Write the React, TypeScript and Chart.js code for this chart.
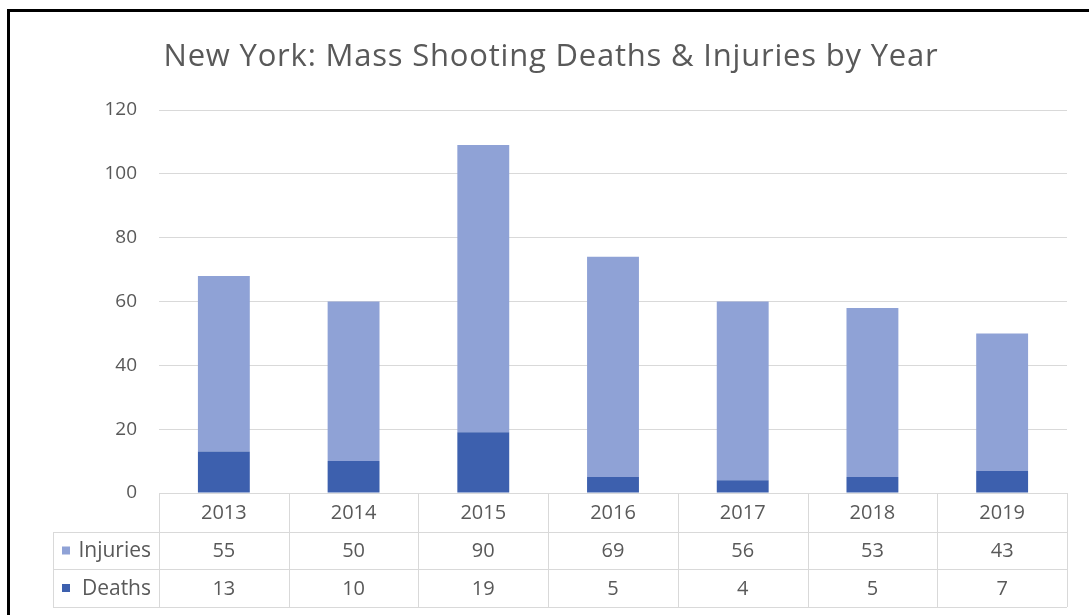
import React, { useEffect, useRef } from 'react';
import { Chart, registerables } from 'chart.js';

Chart.register(...registerables);

const titleText = 'New York: Mass Shooting Deaths & Injuries by Year';
const years = ['2013', '2014', '2015', '2016', '2017', '2018', '2019'];
const injuries = [55, 50, 90, 69, 56, 53, 43];
const deaths = [13, 10, 19, 5, 4, 5, 7];
const yMin = 0;
const yMax = 120;
const yStep = 20;

const FONT = '"Open Sans", Lato, "Liberation Sans", sans-serif';
const TEXT = '#595959';
const GRID = '#d9d9d9';
const C_INJ = '#8FA2D6';
const C_DEA = '#3D60AE';

const decorPlugin = {
  id: 'decor',
  beforeDraw(chart: any) {
    const ctx = chart.ctx;
    ctx.save();
    ctx.fillStyle = '#ffffff';
    ctx.fillRect(0, 0, chart.width, chart.height);
    ctx.fillStyle = '#000000';
    ctx.fillRect(7, 9, chart.width - 7, 3);
    ctx.fillRect(7, 9, 3, chart.height - 9);
    ctx.restore();
  },
  afterDraw(chart: any) {
    const ctx = chart.ctx;
    const area = chart.chartArea;
    const xs = chart.scales.x;
    ctx.save();
    // title
    ctx.fillStyle = TEXT;
    ctx.font = `31px ${FONT}`;
    try {
      (ctx as any).letterSpacing = '0.8px';
    } catch (e) {}
    ctx.textAlign = 'center';
    ctx.textBaseline = 'middle';
    ctx.fillText(titleText, 551, 57);
    try {
      (ctx as any).letterSpacing = '0px';
    } catch (e) {}

    // data table
    const n = years.length;
    const cw = (area.right - area.left) / n;
    const top = area.bottom;
    const r1 = top + 39;
    const r2 = r1 + 37;
    const r3 = r2 + 38;
    const legL = 53;
    ctx.strokeStyle = GRID;
    ctx.lineWidth = 1;
    ctx.beginPath();
    ctx.moveTo(area.left, top + 0.5);
    ctx.lineTo(area.right, top + 0.5);
    [r1, r2, r3].forEach((y) => {
      ctx.moveTo(legL, y + 0.5);
      ctx.lineTo(area.right, y + 0.5);
    });
    ctx.moveTo(legL + 0.5, r1);
    ctx.lineTo(legL + 0.5, r3);
    for (let i = 0; i <= n; i++) {
      const x = Math.round(xs.getPixelForValue(0) - cw / 2 + i * cw) + 0.5;
      ctx.moveTo(x, top);
      ctx.lineTo(x, r3);
    }
    ctx.stroke();

    ctx.fillStyle = TEXT;
    ctx.font = `20px ${FONT}`;
    ctx.textAlign = 'center';
    ctx.textBaseline = 'middle';
    const rows = [
      { y: (top + r1) / 2, vals: years },
      { y: (r1 + r2) / 2, vals: injuries.map(String) },
      { y: (r2 + r3) / 2, vals: deaths.map(String) },
    ];
    rows.forEach((row) => {
      row.vals.forEach((v, i) => {
        ctx.fillText(v, xs.getPixelForValue(i), row.y + 1);
      });
    });
    // legend column
    const legend = [
      { label: 'Injuries', color: C_INJ, y: rows[1].y },
      { label: 'Deaths', color: C_DEA, y: rows[2].y },
    ];
    ctx.textAlign = 'right';
    ctx.font = `21px ${FONT}`;
    legend.forEach((l) => {
      ctx.fillStyle = l.color;
      ctx.fillRect(62, l.y - 4, 8, 8);
      ctx.fillStyle = TEXT;
      ctx.fillText(l.label, 151, l.y + 1);
    });
    ctx.restore();
  },
};

export default function App() {
  const ref = useRef<HTMLCanvasElement | null>(null);
  useEffect(() => {
    if (!ref.current) return;
    const chart = new Chart(ref.current, {
      type: 'bar',
      data: {
        labels: years,
        datasets: [
          { label: 'Deaths', data: deaths, backgroundColor: C_DEA, barPercentage: 0.4, categoryPercentage: 1 },
          { label: 'Injuries', data: injuries, backgroundColor: C_INJ, barPercentage: 0.4, categoryPercentage: 1 },
        ],
      },
      options: {
        responsive: false,
        animation: false,
        devicePixelRatio: 1,
        layout: { padding: { left: 0, right: 22, top: 110, bottom: 122 } },
        plugins: {
          legend: { display: false },
          title: { display: false },
          tooltip: { enabled: false },
        },
        scales: {
          x: { display: false, stacked: true },
          y: {
            stacked: true,
            min: yMin,
            max: yMax,
            ticks: { stepSize: yStep, color: TEXT, font: { family: FONT, size: 19 }, padding: 22 },
            grid: { color: GRID, drawTicks: false },
            border: { display: false },
            afterFit: (s: any) => {
              s.width = 159;
            },
          },
        },
      },
      plugins: [decorPlugin],
    });
    return () => chart.destroy();
  }, []);
  return (
    <div style={{ position: 'fixed', left: 0, top: 0, width: 1089, height: 615, background: '#fff' }}>
      <canvas ref={ref} width={1089} height={615} style={{ width: 1089, height: 615, display: 'block' }} />
    </div>
  );
}
